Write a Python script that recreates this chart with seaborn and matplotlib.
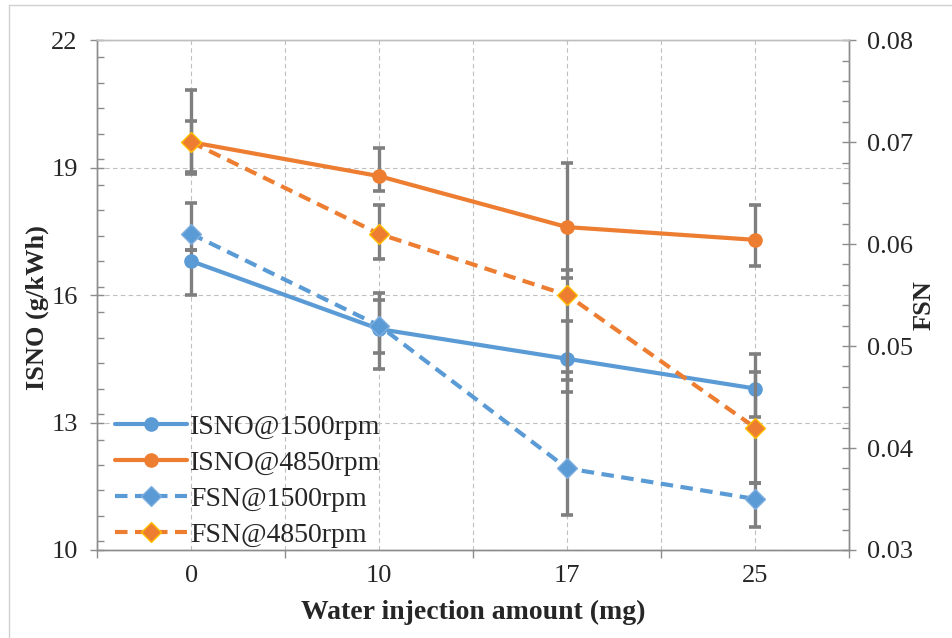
import numpy as np
import pandas as pd
import matplotlib
matplotlib.use("Agg")
import matplotlib.pyplot as plt
import seaborn as sns
from matplotlib.ticker import MultipleLocator, FormatStrFormatter
from matplotlib.lines import Line2D

# data
water = ["0", "10", "17", "25"]

isno_1500 = [16.8, 15.2, 14.5, 13.8]
isno_1500_hi = [17.06, 15.88, 15.39, 14.61]
isno_1500_lo = [16.0, 14.26, 13.72, 13.13]

isno_4850 = [19.6, 18.8, 17.6, 17.3]
isno_4850_hi = [20.09, 19.46, 19.11, 18.12]
isno_4850_lo = [18.89, 18.45, 16.4, 16.68]

fsn_1500 = [0.061, 0.052, 0.038, 0.035]
fsn_1500_hi = [0.064, 0.0552, 0.0475, 0.0366]
fsn_1500_lo = [0.0594, 0.0493, 0.0334, 0.0323]

fsn_4850 = [0.070, 0.061, 0.055, 0.042]
fsn_4850_hi = [0.0751, 0.0638, 0.0575, 0.0475]
fsn_4850_lo = [0.0669, 0.0585, 0.0467, 0.0366]

blue = "#5B9BD5"
orange = "#ED7D31"
gray = "#7F7F7F"

sns.set_theme(style="white")
plt.rcParams["font.family"] = ["Liberation Serif", "DejaVu Serif"]

df = pd.DataFrame({"pos": np.arange(len(water)), "water": water})

fig = plt.figure(figsize=(9.53, 6.38), dpi=100)
ax = fig.add_axes([0.102, 0.138, 0.789, 0.799])
ax2 = ax.twinx()


def draw(a, vals, lo, hi, color, marker, ms, mec, dashed, label):
    y = np.array(vals)
    yerr = [y - np.array(lo), np.array(hi) - y]
    a.errorbar(df["pos"], y, yerr=yerr, fmt="none", ecolor=gray,
               elinewidth=2.4, capsize=4.5, capthick=2.6, zorder=2)
    sns.lineplot(x=df["pos"], y=y, ax=a, color=color, marker=marker,
                 markersize=ms, markeredgecolor=mec, markeredgewidth=1,
                 linewidth=3.0, label=label, zorder=3)
    line = a.lines[-1]
    if dashed:
        line.set_dashes((3.0, 1.8))
    return line


h1 = draw(ax, isno_1500, isno_1500_lo, isno_1500_hi, blue, "o", 9.5, blue, False, "ISNO@1500rpm")
h2 = draw(ax, isno_4850, isno_4850_lo, isno_4850_hi, orange, "o", 9.5, orange, False, "ISNO@4850rpm")
h3 = draw(ax2, fsn_1500, fsn_1500_lo, fsn_1500_hi, blue, "D", 10, "#7FAFDF", True, "FSN@1500rpm")
h4 = draw(ax2, fsn_4850, fsn_4850_lo, fsn_4850_hi, orange, "D", 10, "#FFC000", True, "FSN@4850rpm")

for a in (ax, ax2):
    if a.get_legend() is not None:
        a.get_legend().remove()

# x axis: categories at centres, ticks at the borders
ax.set_xlim(-0.5, len(water) - 0.5)
ax.set_xticks(df["pos"])
ax.set_xticklabels(water)
ax.set_xticks(np.arange(-0.5, len(water), 1.0), minor=True)
ax.tick_params(axis="x", which="major", length=0, pad=11, labelsize=19)
ax.tick_params(axis="x", which="minor", direction="out", length=6, width=1, color="#8c8c8c", bottom=True)

# left axis
ax.set_ylim(10, 22)
ax.set_yticks([10, 13, 16, 19, 22])
ax.yaxis.set_minor_locator(MultipleLocator(0.6))
ax.tick_params(axis="y", which="major", direction="inout", length=10, width=1, color="#8c8c8c", labelsize=19, left=True, pad=9)
ax.tick_params(axis="y", which="minor", direction="in", length=5, width=1, color="#8c8c8c", left=True)

# right axis
ax2.set_ylim(0.03, 0.08)
ax2.set_yticks([0.03, 0.04, 0.05, 0.06, 0.07, 0.08])
ax2.yaxis.set_major_formatter(FormatStrFormatter("%.2f"))
ax2.yaxis.set_minor_locator(MultipleLocator(0.002))
ax2.tick_params(axis="y", which="major", direction="inout", length=10, width=1, color="#8c8c8c", labelsize=19, right=True, pad=8)
ax2.tick_params(axis="y", which="minor", direction="in", length=5, width=1, color="#8c8c8c", right=True)

# grid
ax.xaxis.grid(True, which="both", color="#BFBFBF", linestyle=(0, (4, 3)), linewidth=0.8)
ax.yaxis.grid(True, which="major", color="#BFBFBF", linestyle=(0, (4, 3)), linewidth=0.8)
ax2.grid(False)
ax.set_axisbelow(True)

for a in (ax, ax2):
    for s in ["left", "right", "bottom"]:
        a.spines[s].set_color("#8c8c8c")
        a.spines[s].set_linewidth(1)
    a.spines["top"].set_color("#BFBFBF")
    a.spines["top"].set_linewidth(1)

ax.set_xlabel("Water injection amount (mg)", fontsize=20, fontweight="bold", labelpad=9)
ax.set_ylabel("ISNO (g/kWh)", fontsize=19, fontweight="bold")
ax.yaxis.set_label_coords(-0.064, 0.476)
ax2.set_ylabel("FSN", fontsize=19, fontweight="bold", rotation=90)
ax2.yaxis.set_label_coords(1.084, 0.48)

ax2.legend(handles=[h1, h2, h3, h4], labels=["ISNO@1500rpm", "ISNO@4850rpm", "FSN@1500rpm", "FSN@4850rpm"],
           loc="lower left", bbox_to_anchor=(0.0, -0.032), frameon=False, fontsize=20,
           handlelength=2.6, handletextpad=0.1, labelspacing=0.38, borderaxespad=0.25, numpoints=1)

# light frame lines around the chart area
fig.add_artist(Line2D([9 / 953, 9 / 953], [0, 1 - 5 / 638], transform=fig.transFigure, color="#D0D0D0", lw=1))
fig.add_artist(Line2D([9 / 953, 1], [1 - 5 / 638, 1 - 5 / 638], transform=fig.transFigure, color="#D0D0D0", lw=1))

fig.savefig("out.png", dpi=100)
